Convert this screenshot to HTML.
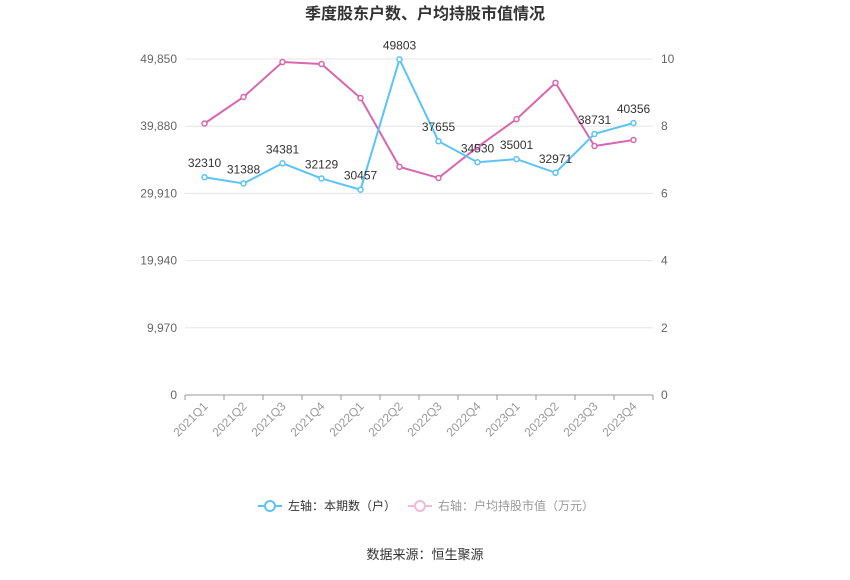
<!DOCTYPE html>
<html><head><meta charset="utf-8">
<style>
body{margin:0;background:#fff;font-family:"Liberation Sans","Noto Sans CJK SC",sans-serif;}
svg text{font-family:"Liberation Sans","Noto Sans CJK SC",sans-serif;}
</style></head>
<body>
<svg id="chart" width="850" height="575" xmlns="http://www.w3.org/2000/svg">
<text x="425" y="19" text-anchor="middle" font-size="16" font-weight="bold" fill="#333">季度股东户数、户均持股市值情况</text>
<g id="grid"></g><g id="axes"></g><g id="series"></g>
<g>
<g>
<line x1="258" y1="506" x2="282" y2="506" stroke="#5bc4f5" stroke-width="2"/>
<circle cx="270" cy="506" r="5" fill="#fff" stroke="#5bc4f5" stroke-width="2"/>
<text x="288" y="510" font-size="12" fill="#333">左轴：本期数（户）</text></g>
<g>
<line x1="408" y1="506" x2="432" y2="506" stroke="#f0b8dc" stroke-width="2"/>
<circle cx="420" cy="506" r="5" fill="#fff" stroke="#f0b8dc" stroke-width="2"/>
<text x="438" y="510" font-size="12" fill="#999">右轴：户均持股市值（万元）</text></g>
</g>
<text x="425" y="559" text-anchor="middle" font-size="13" fill="#333">数据来源：恒生聚源</text>
</svg>
<script>
const categories=["2021Q1","2021Q2","2021Q3","2021Q4","2022Q1","2022Q2","2022Q3","2022Q4","2023Q1","2023Q2","2023Q3","2023Q4"];
const holders=[32310,31388,34381,32129,30457,49803,37655,34530,35001,32971,38731,40356];
const avgValue=[8.08,8.87,9.91,9.85,8.84,6.79,6.46,7.38,8.21,9.29,7.41,7.59];
const leftTicks=[0,9970,19940,29910,39880,49850];
const leftTickLabels=["0","9,970","19,940","29,910","39,880","49,850"];
const rightTicks=[0,2,4,6,8,10];
const NS="http://www.w3.org/2000/svg";
const L=185,R=653,T=59,B=395;
const band=(R-L)/categories.length;
const xs=i=>L+band*(i+0.5);
const yl=v=>B-(v/49850)*(B-T);
const yr=v=>B-(v/10)*(B-T);
function mk(tag,attrs,parent){const e=document.createElementNS(NS,tag);for(const k in attrs)e.setAttribute(k,attrs[k]);parent.appendChild(e);return e;}
const grid=document.getElementById('grid'),axes=document.getElementById('axes'),ser=document.getElementById('series');
leftTicks.forEach((t,i)=>{
 const y=yl(t);
 const g=mk('line',{x1:L,x2:R,y1:y,y2:y,stroke:i==0?'#999':'#e6e6e6','stroke-width':1},grid);
 
 
 const tx=mk('text',{x:L-8,y:y+4,'text-anchor':'end','font-size':12,fill:'#666'},axes);
 tx.textContent=leftTickLabels[i];
 
 
});
rightTicks.forEach(t=>{
 const tx=mk('text',{x:R+8,y:yr(t)+4,'text-anchor':'start','font-size':12,fill:'#666'},axes);
 tx.textContent=t;
 
 
});
categories.forEach((c,i)=>{
 const x=xs(i);
 mk('line',{x1:L+band*(i+1),x2:L+band*(i+1),y1:B,y2:B+5,stroke:'#999'},axes);
 const tx=mk('text',{x:x+4,y:B+12,'text-anchor':'end','font-size':12,fill:'#999',transform:`rotate(-45 ${x+4} ${B+12})`},axes);
 tx.textContent=c;
 
 
});
mk('line',{x1:L,x2:L,y1:B,y2:B+5,stroke:'#999'},axes);
function line(vals,yf,color,name,labels){
 const p=mk('polyline',{points:vals.map((v,i)=>xs(i)+','+yf(v)).join(' '),fill:'none',stroke:color,'stroke-width':2},ser);
 
 
 vals.forEach((v,i)=>{
  const c=mk('circle',{cx:xs(i),cy:yf(v),r:2.5,fill:'#fff',stroke:color,'stroke-width':1.5},ser);
  
  
  if(labels){
   const t=mk('text',{x:xs(i),y:yf(v)-10,'text-anchor':'middle','font-size':12,fill:'#333'},ser);
   t.textContent=v;
   
   
  }
 });
}
line(avgValue,yr,'#d966b0','avg-value',false);
line(holders,yl,'#5bc4f5','holders',true);
</script>
</body></html>
